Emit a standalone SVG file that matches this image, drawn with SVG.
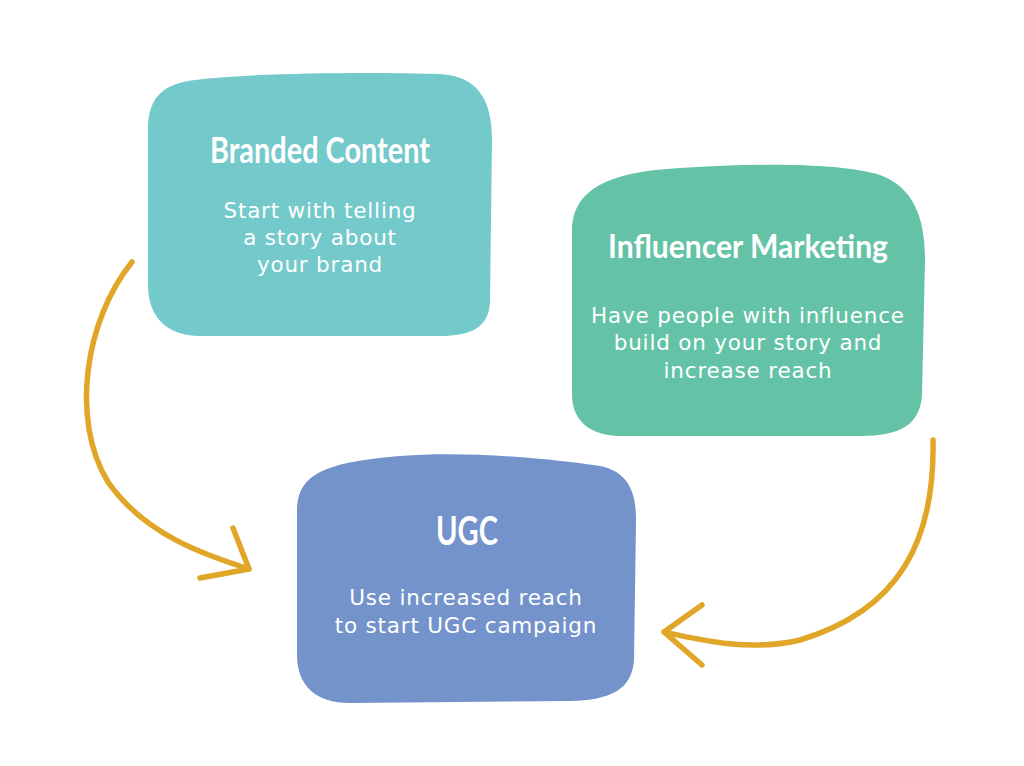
<svg xmlns="http://www.w3.org/2000/svg" width="1024" height="766" viewBox="0 0 1024 766">
<style>
.title{font-family:Lato,"Open Sans",sans-serif;font-weight:700;fill:#ffffff;text-anchor:middle}
.body{font-family:"DejaVu Sans","Open Sans",sans-serif;font-size:21.5px;letter-spacing:0.8px;fill:#ffffff;text-anchor:middle}
.arrow{fill:none;stroke:#E1A627;stroke-width:5.5;stroke-linecap:round;stroke-linejoin:round}
</style>
<rect width="1024" height="766" fill="#ffffff"/>
<g id="node-branded">
<path d="M195,80 C260,72 380,72 440,74 C478,76 492,100 492,140 L490,300 C490,328 470,336 440,336 L200,336 C165,336 148,315 148,285 L148,130 C148,95 165,84 195,80 Z" fill="#74C9CB"/>
<text class="title" x="320" y="163" font-size="37" textLength="220" lengthAdjust="spacingAndGlyphs">Branded Content</text>
<text class="body" x="320" y="218">Start with telling</text>
<text class="body" x="320" y="245">a story about</text>
<text class="body" x="320" y="272">your brand</text>
</g>
<g id="node-influencer">
<path d="M572,232 C572,188 610,172 680,168 C760,163 840,163 880,175 C915,188 925,220 925,260 L922,395 C920,425 900,436 860,436 L620,436 C590,436 572,420 572,395 Z" fill="#64C3A6"/>
<text class="title" x="748" y="258" font-size="32" textLength="280" lengthAdjust="spacingAndGlyphs">Influencer Marketing</text>
<text class="body" x="748" y="323">Have people with influence</text>
<text class="body" x="748" y="350">build on your story and</text>
<text class="body" x="748" y="378">increase reach</text>
</g>
<g id="node-ugc">
<path d="M297,510 C297,472 330,462 400,456 C470,450 560,460 600,466 C630,472 636,495 636,520 L634,660 C632,690 610,700 570,701 L350,703 C315,703 297,685 297,655 Z" fill="#7493CB"/>
<text class="title" x="467" y="545" font-size="40" textLength="62" lengthAdjust="spacingAndGlyphs">UGC</text>
<text class="body" x="466" y="605">Use increased reach</text>
<text class="body" x="466" y="633">to start UGC campaign</text>
</g>
<g id="connectors">
<path class="arrow" d="M132,262 C85,320 70,420 108,482 C145,535 205,555 249,569"/>
<path class="arrow" d="M233,528 L249,569 L200,578"/>
<path class="arrow" d="M933,440 C935,540 900,610 800,640 C750,652 700,640 664,632"/>
<path class="arrow" d="M702,605 L664,632 L702,665"/>
</g>
</svg>
